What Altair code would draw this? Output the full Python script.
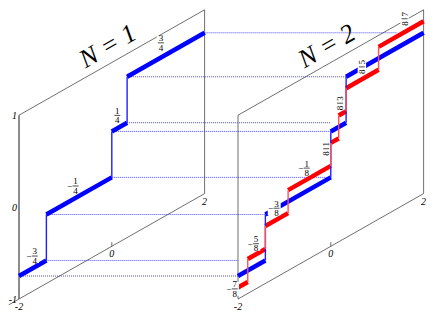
import altair as alt
import pandas as pd

# ---------------- values ----------------
panel_ids = [0, 1]
panel_titles = ["N = 1", "N = 2"]
title_u, title_v = -0.085, 1.2

u_ticks = [-2, 0, 2]
u_tick_labels = ["-2", "0", "2"]
v_ticks = [1, 0, -1]
v_tick_labels = ["1", "0", "-1"]

# N = 1 staircase (blue): breakpoints and levels
n1_edges = [-2, -1.41, 0, 0.33, 2]
n1_levels = [-0.75, -0.25, 0.25, 0.75]
# N = 2 staircase (red)
n2_edges = [-2, -1.79, -1.41, -0.92, 0, 0.17, 0.33, 1.03, 2]
n2_levels = [-0.875, -0.625, -0.375, -0.125, 0.125, 0.375, 0.625, 0.875]

# level labels (fractions)
n1_num = ["3", "1", "1", "3"]
n1_den = ["4", "4", "4", "4"]
n1_sign = ["−", "−", "", ""]
n1_lab_u = [-1.66, -0.78, 0.12, 1.06]
n1_lab_v = [-0.63, -0.12, 0.39, 0.91]

n2_num = ["7", "5", "3", "1", "1", "3", "5", "7"]
n2_den = ["8", "8", "8", "8", "8", "8", "8", "8"]
n2_sign = ["−", "−", "−", "−", "", "", "", ""]
n2_lab_u = [-2.07, -1.61, -1.17, -0.52, -0.10, 0.20, 0.67, 1.59]
n2_lab_v = [-0.87, -0.51, -0.25, 0.00, 0.09, 0.50, 0.76, 1.02]

# dotted guide lines from the N = 1 corners towards the N = 2 panel
guide_u = [2, 0.33, 0.33, 0, 0, -1.41, -1.41, -2]
guide_v = [0.75, 0.75, 0.25, 0.25, -0.25, -0.25, -0.75, -0.75]
guide_u_end = [1.43, 0.33, 0, 0, 0, -1.41, -2, -2]

# ---------------- oblique projection layout ----------------
W, H = 420, 303
OX, OY = 11, 12
DP = 219
KUX, KUY, KV = 46.4, 26.35, 91.9
OVERHANG = 0.22


def px(p, u):
    return f"{OX} + {DP}*({p}) + (({u}) + 2)*{KUX}"


def py(u, v):
    return f"{OY} + (({u}) + 2)*{KUY} + (({v}) + 1)*{KV}"


XS = alt.Scale(domain=[0, W], nice=False, zero=False)
YS = alt.Scale(domain=[0, H], nice=False, zero=False)
X = alt.X("X:Q", scale=XS, axis=None)
Y = alt.Y("Y:Q", scale=YS, axis=None)


def seg_chart(df):
    return alt.Chart(df).transform_calculate(
        X=px("datum.panel", "datum.u"), Y=py("datum.u", "datum.v"),
        X2=px("datum.panel", "datum.u2"), Y2=py("datum.u2", "datum.v2"))


def pt_chart(df):
    return alt.Chart(df).transform_calculate(
        X=px("datum.panel", "datum.u"), Y=py("datum.u", "datum.v"))


# frame
frame_rows = []
for p in panel_ids:
    frame_rows += [
        dict(panel=p, part=f"front{p}", u=-2, v=-1, u2=-2, v2=1),
        dict(panel=p, part="back", u=2, v=-1, u2=2, v2=1),
        dict(panel=p, part="top", u=-2, v=1, u2=2, v2=1),
        dict(panel=p, part="bottom", u=-2 - (OVERHANG if p == 0 else 0), v=-1, u2=2, v2=-1),
        dict(panel=p, part="tick", u=0, v=-1, u2=0, v2=-0.955),
    ]
frame_df = pd.DataFrame(frame_rows)

# staircases
step_rows, riser_rows = [], []


def add_steps(series, p, edges, levels):
    for i, lv in enumerate(levels):
        step_rows.append(dict(series=series, panel=p, u=edges[i], v=lv, u2=edges[i + 1], v2=lv))
        if i + 1 < len(levels):
            riser_rows.append(dict(series=series, panel=p, u=edges[i + 1], v=lv,
                                   u2=edges[i + 1], v2=levels[i + 1]))


add_steps("N1", 0, n1_edges, n1_levels)
add_steps("N1", 1, n1_edges, n1_levels)
add_steps("N2", 1, n2_edges, n2_levels)
step_df = pd.DataFrame(step_rows)
riser_df = pd.DataFrame(riser_rows)

guide_df = pd.DataFrame(dict(panel=0, u=guide_u, v=guide_v, ue=guide_u_end))

lab_rows = []
for i in range(len(n1_num)):
    lab_rows.append(dict(panel=0, u=n1_lab_u[i], v=n1_lab_v[i], num=n1_num[i], den=n1_den[i],
                         sign=n1_sign[i], rot=0))
for i in range(len(n2_num)):
    lab_rows.append(dict(panel=1, u=n2_lab_u[i], v=n2_lab_v[i], num=n2_num[i], den=n2_den[i],
                         sign=n2_sign[i], rot=0 if n2_sign[i] else 1))
lab_df = pd.DataFrame(lab_rows)
lab_df["box"] = ["signed" if s else "plain" for s in lab_df["sign"]]

title_df = pd.DataFrame(dict(panel=panel_ids, u=title_u, v=title_v, text=panel_titles))

ulab_rows = []
for p in panel_ids:
    for u, t in zip(u_ticks, u_tick_labels):
        ulab_rows.append(dict(panel=p, u=u, v=-1, text=t))
ulab_df = pd.DataFrame(ulab_rows)
vlab_df = pd.DataFrame(dict(panel=0, u=-2, v=v_ticks, text=v_tick_labels))

SERIF = "Liberation Serif"
rule_enc = dict(x=X, y=Y, x2="X2:Q", y2="Y2:Q")

layers = []
# frame
layers.append(seg_chart(frame_df).transform_filter("datum.part == 'front0'")
              .mark_rule(color="#8c8c8c", strokeWidth=2).encode(**rule_enc))
layers.append(seg_chart(frame_df).transform_filter("datum.part != 'front0'")
              .mark_rule(color="#4a4a4a", strokeWidth=0.8).encode(**rule_enc))
# dotted guides
layers.append(alt.Chart(guide_df).transform_calculate(
    X=px(0, "datum.u"), Y=py("datum.u", "datum.v"), X2=px(1, "datum.ue"))
    .mark_rule(color="#2b2bff", strokeWidth=1, strokeDash=[1, 1], opacity=0.85)
    .encode(x=X, y=Y, x2="X2:Q"))
# horizontal steps
layers.append(seg_chart(step_df).transform_filter("datum.series == 'N1'")
              .mark_rule(color="#0000ff", strokeWidth=4.5, strokeCap="butt").encode(**rule_enc))
layers.append(seg_chart(step_df).transform_filter("datum.series == 'N2'")
              .mark_rule(color="#ff0000", strokeWidth=4.5, strokeCap="butt").encode(**rule_enc))
# label knock-out boxes
PATH_PLAIN = "M-0.6,-1H0.6V1H-0.6Z"
PATH_SIGNED = "M-1.25,-1H0.6V1H-1.25Z"
layers.append(pt_chart(lab_df).mark_point(filled=True, color="white", opacity=1, size=196,
                                          strokeWidth=0)
              .encode(x=X, y=Y, shape=alt.Shape("box:N", scale=alt.Scale(
                  domain=["plain", "signed"], range=[PATH_PLAIN, PATH_SIGNED]), legend=None)))
# risers
layers.append(seg_chart(riser_df).transform_filter("datum.series == 'N1'")
              .mark_rule(color="#2020ff", strokeWidth=1.4).encode(**rule_enc))
layers.append(seg_chart(riser_df).transform_filter("datum.series == 'N2'")
              .mark_rule(color="#ff5050", strokeWidth=1.4).encode(**rule_enc))
# fraction labels
ftxt = dict(font=SERIF, fontSize=9, color="black", baseline="middle", align="center")
layers.append(pt_chart(lab_df).transform_filter("datum.rot == 0")
              .mark_text(dy=-4.6, **ftxt).encode(x=X, y=Y, text="num:N"))
layers.append(pt_chart(lab_df).transform_filter("datum.rot == 0")
              .mark_text(dy=4.8, **ftxt).encode(x=X, y=Y, text="den:N"))
layers.append(pt_chart(lab_df).transform_filter("datum.rot == 1")
              .mark_text(angle=270, dx=4.6, **ftxt).encode(x=X, y=Y, text="num:N"))
layers.append(pt_chart(lab_df).transform_filter("datum.rot == 1")
              .mark_text(angle=270, dx=-4.8, **ftxt).encode(x=X, y=Y, text="den:N"))
layers.append(pt_chart(lab_df).transform_filter("datum.sign != ''")
              .mark_text(dx=-6, **ftxt).encode(x=X, y=Y, text="sign:N"))
layers.append(pt_chart(lab_df).mark_point(shape="M-1,0H1", filled=False, size=36, strokeWidth=0.7,
                                          color="black", opacity=1)
              .encode(x=X, y=Y))
# titles
layers.append(pt_chart(title_df).mark_text(angle=330, font=SERIF, fontStyle="italic", fontSize=26,
                                           color="black", baseline="middle", align="center")
              .encode(x=X, y=Y, text="text:N"))
# axis labels
layers.append(pt_chart(ulab_df).mark_text(dy=8, font=SERIF, fontStyle="italic", fontSize=10,
                                          color="black", baseline="middle", align="center")
              .encode(x=X, y=Y, text="text:N"))
layers.append(pt_chart(vlab_df).mark_text(dx=-2, dy=1, font=SERIF, fontStyle="italic", fontSize=10,
                                          color="black", baseline="middle", align="right")
              .encode(x=X, y=Y, text="text:N"))

chart = alt.layer(*layers).properties(
    width=W, height=H, autosize="none", padding=0
).configure_view(stroke=None)

chart.save("out.html", embed_options={"renderer": "svg", "actions": False})
